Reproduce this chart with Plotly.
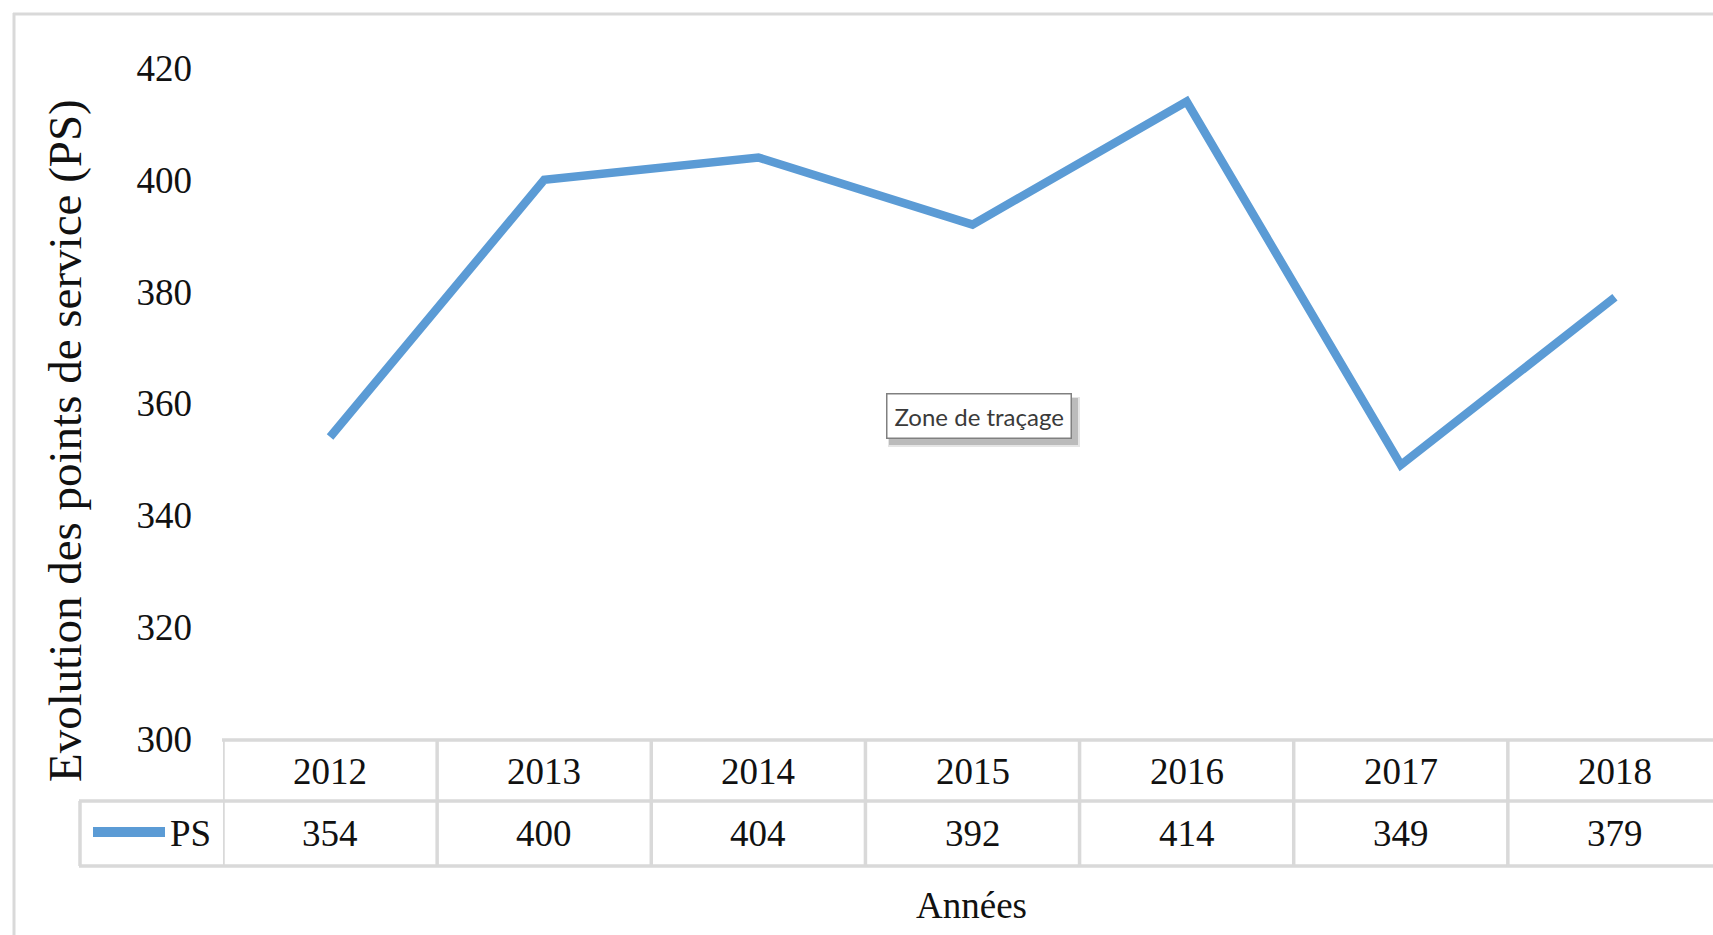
import plotly.graph_objects as go

years = ["2012", "2013", "2014", "2015", "2016", "2017", "2018"]
ps_values = [354, 400, 404, 392, 414, 349, 379]
y_ticks = [300, 320, 340, 360, 380, 400, 420]
series_name = "PS"
y_title = "Evolution des points de service (PS)"
x_title = "Années"
tooltip_text = "Zone de traçage"

W, H = 1713, 935
def px(x):
    return x / W
def py(y):
    return 1 - y / H

LINE_COLOR = "#5B9BD5"
GRID = "#D9D9D9"
SERIF = "Liberation Serif, Times New Roman, serif"
FS = 37
TXT = "#111111"

xs = list(range(len(years)))
fig = go.Figure()
fig.add_trace(go.Scatter(x=xs, y=ps_values, mode="lines", name=series_name,
                         line=dict(color=LINE_COLOR, width=8.5), showlegend=False,
                         hoverinfo="skip"))

fig.update_layout(
    width=W, height=H, margin=dict(l=0, r=0, t=0, b=0, pad=0, autoexpand=False),
    paper_bgcolor="white", plot_bgcolor="white",
    xaxis=dict(domain=[px(223), 1], range=[-0.5, 6.458], visible=False,
               showgrid=False, zeroline=False, automargin=False),
    yaxis=dict(domain=[py(739), py(68)], range=[300, 420], tickvals=y_ticks,
               showgrid=False, zeroline=False, showline=False, ticks="",
               ticklabelstandoff=30, automargin=False,
               tickfont=dict(family=SERIF, size=FS, color=TXT)),
    font=dict(family=SERIF, color=TXT),
)

shapes = []
# outer border
shapes.append(dict(type="line", xref="paper", yref="paper", x0=px(14), x1=px(14), y0=py(13), y1=py(935), line=dict(color=GRID, width=3)))
shapes.append(dict(type="line", xref="paper", yref="paper", x0=px(13), x1=1, y0=py(14), y1=py(14), line=dict(color=GRID, width=3)))
# table horizontal lines
shapes.append(dict(type="line", xref="paper", yref="paper", x0=px(222), x1=1, y0=py(740), y1=py(740), line=dict(color=GRID, width=3.5)))
for yy in (801, 866):
    shapes.append(dict(type="line", xref="paper", yref="paper", x0=px(79), x1=1, y0=py(yy), y1=py(yy), line=dict(color=GRID, width=3.5)))
# left border of legend cell
shapes.append(dict(type="line", xref="paper", yref="paper", x0=px(80), x1=px(80), y0=py(801), y1=py(866), line=dict(color=GRID, width=3.5)))
# vertical category separators
for i in range(len(years)):
    shapes.append(dict(type="line", xref="x", yref="paper", x0=i - 0.5, x1=i - 0.5, y0=py(739), y1=py(867), line=dict(color=GRID, width=3.5)))
# legend line sample
shapes.append(dict(type="line", xref="paper", yref="paper", x0=px(93), x1=px(165), y0=py(832), y1=py(832), line=dict(color=LINE_COLOR, width=10)))
# tooltip soft shadow
shapes.append(dict(type="rect", xref="paper", yref="paper", x0=px(888), x1=px(1080), y0=py(397), y1=py(447), line=dict(width=0), fillcolor="rgba(0,0,0,0.10)"))
shapes.append(dict(type="rect", xref="paper", yref="paper", x0=px(889), x1=px(1078), y0=py(398), y1=py(445), line=dict(width=0), fillcolor="rgba(0,0,0,0.18)"))
fig.update_layout(shapes=shapes)

ann = []
for i, (yr, v) in enumerate(zip(years, ps_values)):
    ann.append(dict(x=i, y=py(771), xref="x", yref="paper", text=yr, showarrow=False,
                    font=dict(family=SERIF, size=FS, color=TXT), xanchor="center", yanchor="middle"))
    ann.append(dict(x=i, y=py(833), xref="x", yref="paper", text=str(v), showarrow=False,
                    font=dict(family=SERIF, size=FS, color=TXT), xanchor="center", yanchor="middle"))
ann.append(dict(x=px(213), y=py(833), xref="paper", yref="paper", text=series_name, showarrow=False,
                font=dict(family=SERIF, size=FS, color=TXT), xanchor="right", yanchor="middle"))
ann.append(dict(x=px(65), y=py(441), xref="paper", yref="paper", text=y_title, showarrow=False, textangle=-90,
                font=dict(family=SERIF, size=47, color=TXT), xanchor="center", yanchor="middle"))
ann.append(dict(x=px(971), y=py(905), xref="paper", yref="paper", text=x_title, showarrow=False,
                font=dict(family=SERIF, size=FS, color=TXT), xanchor="center", yanchor="middle"))
ann.append(dict(x=px(979), y=py(416), xref="paper", yref="paper", text=tooltip_text, showarrow=False,
                font=dict(family="Lato, Open Sans, sans-serif", size=24, color="#3a3a3a"),
                bgcolor="white", bordercolor="#808080", borderwidth=1.5, borderpad=7,
                xanchor="center", yanchor="middle"))
fig.update_layout(annotations=ann)

fig.write_html("out.html", config={"displayModeBar": False},
               post_script="document.body.style.margin='0';document.body.style.overflow='hidden';")
